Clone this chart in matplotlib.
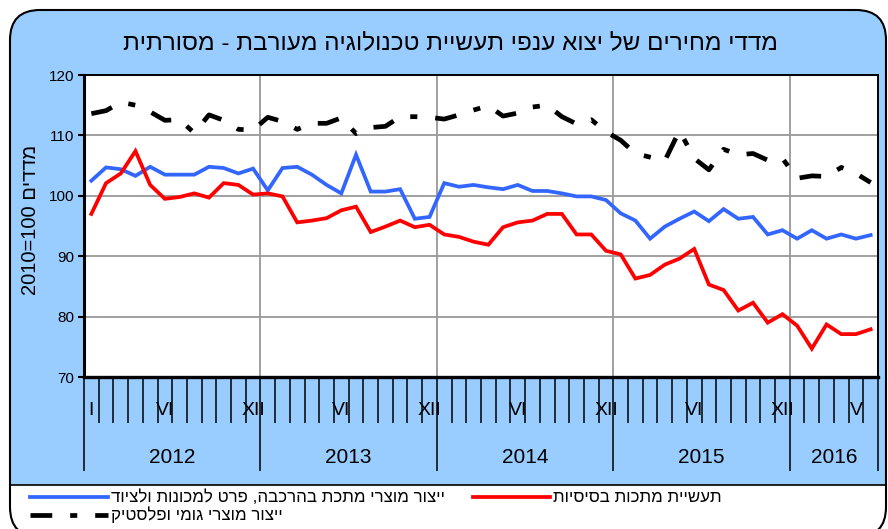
import matplotlib.pyplot as plt
import numpy as np
from matplotlib.patches import FancyBboxPatch, Rectangle
from matplotlib.lines import Line2D

# monthly price indices, 2010=100, Jan 2012 - Jun 2016
metal_products = [102.5, 104.7, 104.4, 103.3, 104.8, 103.5, 103.5, 103.5, 104.8, 104.6, 103.7, 104.5,
                  100.9, 104.6, 104.8, 103.5, 101.8, 100.4, 106.8, 100.7, 100.7, 101.1, 96.2, 96.5,
                  102.1, 101.5, 101.8, 101.4, 101.1, 101.8, 100.8, 100.8, 100.4, 99.9, 99.9, 99.3,
                  97.1, 95.9, 92.9, 94.9, 96.2, 97.4, 95.8, 97.8, 96.2, 96.5, 93.6, 94.3,
                  92.9, 94.3, 92.9, 93.6, 92.9, 93.5]
basic_metals = [97.0, 102.1, 103.7, 107.4, 101.8, 99.5, 99.8, 100.4, 99.7, 102.1, 101.8, 100.2,
                100.4, 99.9, 95.6, 95.9, 96.3, 97.6, 98.2, 94.0, 94.9, 95.9, 94.8, 95.2,
                93.6, 93.2, 92.4, 91.9, 94.8, 95.6, 95.9, 97.0, 97.0, 93.6, 93.6, 90.9,
                90.3, 86.3, 86.9, 88.6, 89.6, 91.2, 85.3, 84.4, 81.0, 82.3, 79.0, 80.4,
                78.5, 74.7, 78.7, 77.1, 77.1, 77.9]
rubber_plastic = [113.6, 114.1, 115.5, 115.0, 113.9, 112.5, 112.6, 110.4, 113.4, 112.5, 111.0, 110.9,
                  113.0, 112.3, 111.0, 112.0, 112.0, 112.9, 110.3, 111.3, 111.5, 113.1, 113.1, 113.0,
                  112.7, 113.4, 114.2, 114.9, 113.2, 113.7, 114.7, 115.0, 113.1, 111.9, 112.6, 110.6,
                  109.2, 107.0, 106.4, 105.8, 110.8, 106.2, 104.3, 107.7, 106.8, 107.0, 105.9, 106.2,
                  102.9, 103.3, 103.2, 104.7, 103.7, 102.2]

years = ['2012', '2013', '2014', '2015', '2016']
year_starts = [0, 12, 24, 36, 48, 54]
roman_months = [0, 5, 11, 17, 23, 29, 35, 41, 47, 52]
roman_names = ['I', 'VI', 'XII', 'VI', 'XII', 'VI', 'XII', 'VI', 'XII', 'V']

title = "מדדי מחירים של יצוא ענפי תעשיית טכנולוגיה מעורבת - מסורתית"
ylabel_he = "מדדים"
name_blue = "ייצור מוצרי מתכת בהרכבה, פרט למכונות ולציוד"
name_red = "תעשיית מתכות בסיסיות"
name_black = "ייצור מוצרי גומי ופלסטיק"


def rtl(s):
    # matplotlib lays glyphs left to right, so hebrew is reversed by hand
    return s[::-1]


W, H = 888, 529
BG = '#99CCFF'
DASH = (4.6, 3.8, 1.5, 3.8)
plt.rcParams['font.family'] = ['Liberation Sans', 'DejaVu Sans']


def fx(px):
    return px / W


def fy(py):
    return 1 - py / H


fig = plt.figure(figsize=(W / 100, H / 100), dpi=100, facecolor='white')

# rounded blue frame with white legend strip at the bottom
frame = FancyBboxPatch((0.10, -0.08), 8.76, 5.27, boxstyle="round,pad=0,rounding_size=0.3",
                       transform=fig.dpi_scale_trans, fc=BG, ec='none', zorder=-5)
fig.add_artist(frame)
strip = Rectangle((0, -0.5), 8.88, 0.94, transform=fig.dpi_scale_trans, fc='white', ec='none', zorder=-4)
fig.add_artist(strip)
strip.set_clip_path(frame)
fig.add_artist(Line2D([fx(10), fx(886)], [fy(485), fy(485)], color='black', lw=1.2, zorder=-3))
edge = FancyBboxPatch((0.10, -0.08), 8.76, 5.27, boxstyle="round,pad=0,rounding_size=0.3",
                      transform=fig.dpi_scale_trans, fc='none', ec='black', lw=1.5, zorder=-2)
fig.add_artist(edge)

ax = fig.add_axes([fx(84), fy(377), fx(878) - fx(84), fy(75) - fy(377)])
ax.set_facecolor('white')

x = np.arange(len(metal_products)) + 0.5
ax.plot(x, metal_products, color='#3366FF', lw=2.7, solid_joinstyle='miter', zorder=3)
ax.plot(x, basic_metals, color='#FF0000', lw=2.7, solid_joinstyle='miter', zorder=4)
ax.plot(x, rubber_plastic, color='black', lw=3.4, dashes=DASH,
        dash_capstyle='butt', zorder=5)

ax.set_xlim(0, 54)
ax.set_ylim(70, 120)
ax.set_yticks(np.arange(70, 121, 10))
ax.set_xticks(year_starts)
ax.set_xticks(np.arange(0, 55), minor=True)
ax.set_xticklabels([])
ax.tick_params(axis='x', which='major', direction='out', length=68, width=1.1, color='black')
ax.tick_params(axis='x', which='minor', direction='out', length=33, width=1.1, color='black')
ax.tick_params(axis='y', direction='out', length=4, width=1.5, labelsize=11, pad=3)
ax.grid(True, which='major', color='#999999', lw=1.3, zorder=1)
ax.set_axisbelow(True)
for side, w in [('left', 2.2), ('bottom', 2.4), ('top', 1.4), ('right', 1.4)]:
    ax.spines[side].set_linewidth(w)
    ax.spines[side].set_color('black')

for m, name in zip(roman_months, roman_names):
    ax.text(m + 0.5, -0.11, name, transform=ax.get_xaxis_transform(),
            ha='center', va='center', fontsize=14)
for i, yr in enumerate(years):
    mid = (year_starts[i] + year_starts[i + 1]) / 2
    ax.text(mid, -0.265, yr, transform=ax.get_xaxis_transform(),
            ha='center', va='center', fontsize=15)

fig.text(fx(450), fy(43), rtl(title), ha='center', va='center', fontsize=17.5)
fig.text(fx(30), fy(220), "2010=100 " + rtl(ylabel_he), rotation=90,
         ha='center', va='center', fontsize=14.5)

# legend drawn by hand to keep the excel layout
legend_rows = [(fx(30), fx(108), fy(497), '#3366FF', None, name_blue, fx(111)),
               (fx(473), fx(550), fy(497), '#FF0000', None, name_red, fx(553)),
               (fx(30), fx(108), fy(515), 'black', DASH, name_black, fx(111))]
for x0, x1, yy, col, dash, name, tx in legend_rows:
    ln = Line2D([x0, x1], [yy, yy], color=col, lw=3.4 if dash else 2.7)
    if dash:
        ln.set_dashes(dash)
        ln.set_dash_capstyle('butt')
    fig.add_artist(ln)
    fig.text(tx, yy, rtl(name), ha='left', va='center', fontsize=12.2)

fig.savefig('out.png', dpi=100)
